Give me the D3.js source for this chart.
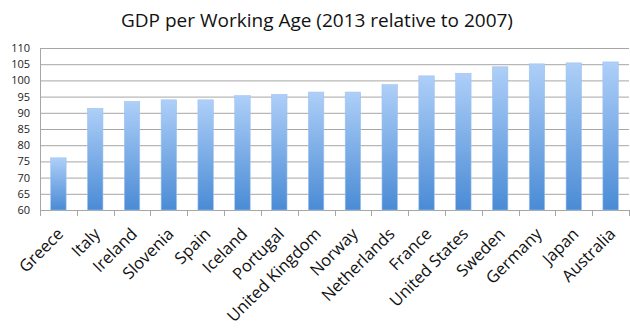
<!DOCTYPE html>
<html><head><meta charset="utf-8">
<script src="https://cdn.jsdelivr.net/npm/d3@7"></script>
<style>body{margin:0;background:#fff}svg{display:block}</style>
</head><body>
<svg id="c" width="630" height="329"></svg>
<script>
const categories = ["Greece","Italy","Ireland","Slovenia","Spain","Iceland","Portugal","United Kingdom","Norway","Netherlands","France","United States","Sweden","Germany","Japan","Australia"];
const values = [76.1,91.4,93.5,94.0,94.0,95.3,95.7,96.4,96.4,98.7,101.4,102.2,104.2,105.1,105.4,105.7];
const yTicks = [60,65,70,75,80,85,90,95,100,105,110];
const title = "GDP per Working Age (2013 relative to 2007)";

const svg = d3.select("#c");
const m = {l:40, r:629, t:48, b:210};
const x = d3.scaleBand().domain(categories).range([m.l, m.r]).paddingInner(0.58).paddingOuter(0.29);
const xb = d3.scaleBand().domain(categories).range([m.l, m.r]);
const y = d3.scaleLinear().domain([60,110]).range([m.b, m.t]);

const defs = svg.append("defs");
const g = defs.append("linearGradient").attr("id","bg").attr("x1",0).attr("y1",0).attr("x2",0).attr("y2",1);
g.append("stop").attr("offset","0%").attr("stop-color","#aecff8");
g.append("stop").attr("offset","100%").attr("stop-color","#4a8bd5");

// gridlines
svg.append("g").selectAll("line").data(yTicks).join("line")
  .attr("x1",m.l).attr("x2",m.r).attr("y1",d=>y(d)+0.5).attr("y2",d=>y(d)+0.5)
  .attr("stroke","#a6a6a6").attr("stroke-width",1);

// y axis line
svg.append("line").attr("x1",m.l+0.5).attr("x2",m.l+0.5).attr("y1",m.t).attr("y2",m.b+0.5).attr("stroke","#a6a6a6");

// y tick labels
svg.append("g").selectAll("text").data(yTicks).join("text")
  .attr("x",30).attr("y",d=>y(d)+4).attr("text-anchor","end")
  .attr("font-family","'Open Sans', sans-serif").attr("font-size",11).attr("fill","#222")
  .text(d=>d);

// x tick marks
const bounds = categories.map(c=>xb(c)).concat([m.r]);
svg.append("g").selectAll("line").data(bounds).join("line")
  .attr("x1",d=>Math.round(d)+0.5).attr("x2",d=>Math.round(d)+0.5).attr("y1",m.b).attr("y2",m.b+6)
  .attr("stroke","#a6a6a6");

// bars
svg.append("g").selectAll("rect").data(values).join("rect")
  .attr("x",(d,i)=>x(categories[i])).attr("width",x.bandwidth())
  .attr("y",d=>y(d)).attr("height",d=>y(60)-y(d))
  .attr("fill","url(#bg)").attr("stroke","#9fc3ee").attr("stroke-width",0.6);

// category labels
svg.append("g").selectAll("text").data(categories).join("text")
  .attr("transform",c=>`translate(${xb(c)+xb.bandwidth()/2+6},${m.b+25}) rotate(-45)`)
  .attr("text-anchor","end")
  .attr("font-family","'Open Sans', sans-serif").attr("font-size",16.5).attr("fill","#111")
  .text(c=>c);

// title
svg.append("text").attr("x",317).attr("y",27).attr("text-anchor","middle")
  .attr("font-family","'Open Sans', sans-serif").attr("font-size",19).attr("fill","#111")
  .text(title);
</script>
</body></html>
